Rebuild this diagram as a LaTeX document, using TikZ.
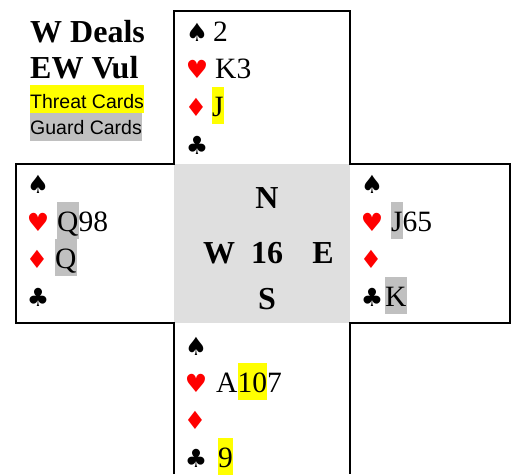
\documentclass[tikz,border=0pt]{standalone}
\usepackage{fontspec}
\setmainfont{Liberation Serif}
\newfontfamily\suitfont{DejaVu Sans}
\newfontfamily\labelfont{Liberation Sans}
\definecolor{threat}{HTML}{FFFF00}
\definecolor{guard}{HTML}{C0C0C0}
\definecolor{tablegray}{HTML}{DFDFDF}
\definecolor{suitred}{HTML}{FF0000}
% inline highlight of some cards
\newcommand\hlcard[2]{{\setlength{\fboxsep}{0pt}\colorbox{#1}{\rule[-8pt]{0pt}{37pt}#2}}}
\tikzset{
  cards/.style={anchor=base west, inner sep=0pt, font=\fontsize{29.5}{34}\selectfont},
  suitblack/.style={anchor=base, inner sep=0pt, font=\suitfont\fontsize{25}{28}\selectfont, text=black},
  suitred/.style={suitblack, text=suitred},
  seat/.style={anchor=base, inner sep=0pt, font=\fontsize{32}{38}\selectfont\bfseries},
  header/.style={anchor=base west, inner sep=0pt, font=\fontsize{32}{38}\selectfont\bfseries},
  legend/.style={anchor=base west, inner ysep=0pt, inner xsep=0.5pt, font=\labelfont\fontsize{19.5}{23}\selectfont},
  frame/.style={line width=2pt, line join=miter},
}
\begin{document}
\begin{tikzpicture}[x=1pt, y=-1pt]
\useasboundingbox (0,0) rectangle (514,474);

% table centre
\fill[tablegray] (174,164) rectangle (350,323);

% cross-shaped outline of the four hands
\draw[frame] (174,474) -- (174,323) -- (16,323) -- (16,164) -- (174,164)
  -- (174,11) -- (350,11) -- (350,164) -- (510,164) -- (510,323)
  -- (350,323) -- (350,474);

% deal information and legend
\node[header] (deals) at (30,42) {W Deals};
\node[header] (vul) at (30,78) {EW Vul};
\node[legend, fill=threat, text height=23pt, text depth=5pt] (threatkey) at (29.5,108) {Threat Cards};
\node[legend, fill=guard, text height=21pt, text depth=7pt] (guardkey) at (29.5,134) {Guard Cards};

% compass
\node[seat] (cN) at (267,208) {N};
\node[seat] (cW) at (219,263) {W};
\node[seat] (cBoard) at (267,263) {16};
\node[seat] (cE) at (323,263) {E};
\node[seat] (cS) at (267,309) {S};

% North
\node[suitblack] (nS) at (197,41) {♠};
\node[suitred] (nH) at (197,78) {♥};
\node[suitred] (nD) at (196,116) {♦};
\node[suitblack] (nC) at (197,154) {♣};
\node[cards] (nSc) at (213,41) {2};
\node[cards] (nHc) at (215,78) {K3};
\node[cards] (nDc) at (212,116) {\hlcard{threat}{J}};

% West
\node[suitblack] (wS) at (38,193) {♠};
\node[suitred] (wH) at (38,231) {♥};
\node[suitred] (wD) at (37,268) {♦};
\node[suitblack] (wC) at (38,306) {♣};
\node[cards] (wHc) at (57,231) {\hlcard{guard}{Q}98};
\node[cards] (wDc) at (55,268) {\hlcard{guard}{Q}};

% East
\node[suitblack] (eS) at (372,193) {♠};
\node[suitred] (eH) at (372,231) {♥};
\node[suitred] (eD) at (371,268) {♦};
\node[suitblack] (eC) at (372,306) {♣};
\node[cards] (eHc) at (391,231) {\hlcard{guard}{J}65};
\node[cards] (eCc) at (385,306) {\hlcard{guard}{K}};

% South
\node[suitblack] (sS) at (196,355) {♠};
\node[suitred] (sH) at (196,392) {♥};
\node[suitred] (sD) at (195,429) {♦};
\node[suitblack] (sC) at (196,467) {♣};
\node[cards] (sHc) at (216,392) {A\hlcard{threat}{10}7};
\node[cards] (sCc) at (218,467) {\hlcard{threat}{9}};
\end{tikzpicture}
\end{document}
